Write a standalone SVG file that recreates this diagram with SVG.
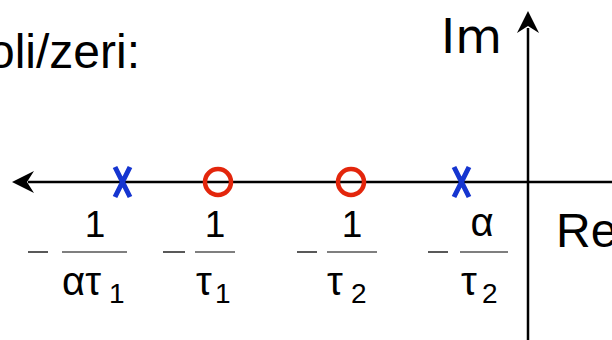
<svg xmlns="http://www.w3.org/2000/svg" width="612" height="340" viewBox="0 0 612 340">
<style>
.t{font-family:"Liberation Sans",Arial,sans-serif;fill:#000}
.big{font-size:48px}
.num{font-size:37px}
.gr{font-size:40px}
.sub{font-size:28px}
.bar{stroke:#555;stroke-width:1.5}
.minus{stroke:#222;stroke-width:1.5}
.ax{stroke:#000;stroke-width:2.5;fill:none}
.pole{stroke:#1535d0;stroke-width:5;stroke-linecap:butt;fill:none}
.zero{stroke:#e3260c;stroke-width:4.5;fill:none}
</style>
<rect width="612" height="340" fill="#fff"/>
<text class="t big" x="140" y="68" text-anchor="end">poli/zeri:</text>
<g id="axes">
<line class="ax" x1="28" y1="182" x2="612" y2="182"/>
<path d="M12,182 L34,171 L27,182 L34,193 Z" fill="#000"/>
<line class="ax" x1="528" y1="28" x2="528" y2="340"/>
<path d="M528,11 L517,33 L528,26 L539,33 Z" fill="#000"/>
</g>
<text id="im" style="font-family:'DejaVu Sans',sans-serif;font-size:48px" x="441" y="53">Im</text>
<text id="re" class="t big" x="556" y="247">Re</text>
<g id="pole1"><path class="pole" d="M115,167 L130,197 M130,167 L115,197"/></g>
<g id="zero1"><circle class="zero" cx="218" cy="182" r="13"/></g>
<g id="zero2"><circle class="zero" cx="351" cy="182" r="13"/></g>
<g id="pole2"><path class="pole" d="M454,167 L469,197 M469,167 L454,197"/></g>
<g id="label1">
<line class="minus" x1="28" y1="252" x2="48" y2="252"/>
<text class="t num" x="95" y="237" text-anchor="middle">1</text>
<line class="bar" x1="62" y1="252" x2="127" y2="252"/>
<text class="t gr" x="62" y="295">ατ</text>
<text class="t sub" x="109" y="303">1</text>
</g>
<g id="label2">
<line class="minus" x1="163" y1="252" x2="185" y2="252"/>
<text class="t num" x="215" y="237" text-anchor="middle">1</text>
<line class="bar" x1="195" y1="252" x2="235" y2="252"/>
<text class="t gr" x="196" y="295">τ</text>
<text class="t sub" x="215" y="303">1</text>
</g>
<g id="label3">
<line class="minus" x1="297" y1="252" x2="317" y2="252"/>
<text class="t num" x="352" y="237" text-anchor="middle">1</text>
<line class="bar" x1="327" y1="252" x2="377" y2="252"/>
<text class="t gr" x="327" y="295">τ</text>
<text class="t sub" x="351" y="303">2</text>
</g>
<g id="label4">
<line class="minus" x1="428" y1="252" x2="448" y2="252"/>
<text class="t gr" x="482" y="236" text-anchor="middle">α</text>
<line class="bar" x1="460" y1="252" x2="508" y2="252"/>
<text class="t gr" x="461" y="295">τ</text>
<text class="t sub" x="482" y="303">2</text>
</g>
</svg>
